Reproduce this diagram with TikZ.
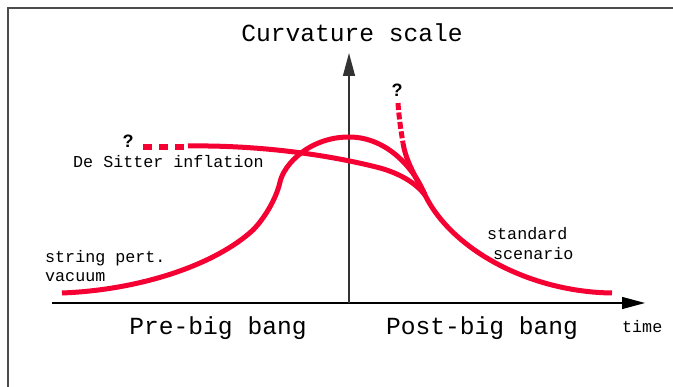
\documentclass[tikz,border=0pt]{standalone}
\usepackage{fontspec}
\setmonofont{Liberation Mono}
\newfontfamily\qfont{Liberation Sans}
\usetikzlibrary{arrows.meta}
\definecolor{cred}{RGB}{245,0,50}
\begin{document}
\begin{tikzpicture}[x=1pt,y=-1pt,
  crv/.style={draw=cred,line width=5pt},
  bigtxt/.style={font=\ttfamily\fontsize{24.6}{28}\selectfont,inner sep=0pt},
  smalltxt/.style={font=\ttfamily\fontsize{16.7}{20}\selectfont,inner sep=0pt},
  qmark/.style={font=\qfont\bfseries\fontsize{18}{20}\selectfont,inner sep=0pt},
  axl/.style={line width=1.3pt,-{Triangle[length=23pt,width=12pt]}}]
\useasboundingbox (0,0) rectangle (673,387);
% frame
\draw[line width=1.5pt,black!70] (8,387) -- (8,8) -- (673,8);
% axes
\coordinate (o) at (349,303);
\coordinate (xs) at (52,303);
\coordinate (xe) at (645,303);
\coordinate (ye) at (349,53);
\draw[axl] (xs) -- (xe);
\draw[axl,black!80] (o) -- (ye);
% texts
\node[bigtxt,anchor=base] (cs) at (352,42) {Curvature scale};
\node[bigtxt,anchor=base] (pre) at (218,335) {Pre-big bang};
\node[bigtxt,anchor=base] (post) at (482,335) {Post-big bang};
\node[smalltxt,anchor=base west] (time) at (622,333) {time};
\node[smalltxt,anchor=base west] (ds) at (73,168) {De Sitter inflation};
\node[smalltxt,anchor=base west] (sp) at (45,263) {string pert.};
\node[smalltxt,anchor=base west] (vac) at (45,282) {vacuum};
\node[smalltxt,anchor=base west] (std) at (487,240) {standard};
\node[smalltxt,anchor=base west] (scen) at (493,260) {scenario};
\node[qmark] (q1) at (128,141) {?};
\node[qmark] (q2) at (397,90) {?};
% key points
\coordinate (a0) at (62,293);
\coordinate (a1) at (253,230);
\coordinate (a2) at (280,182);
\coordinate (pk) at (349,137);
\coordinate (m) at (425,195);
\coordinate (e) at (612,293);
% curve A: pre-big bang + arch + tail
\draw[crv] (a0) .. controls (140,290) and (215,265) .. (a1)
  .. controls (263,220) and (276,200) .. (a2)
  .. controls (284,164) and (310,137) .. (pk)
  .. controls (388,137) and (415,170) .. (m)
  .. controls (452,250) and (530,292) .. (e);
% curve B: De Sitter
\coordinate (b0) at (188,146);
\coordinate (b1) at (380,168);
\draw[draw=cred,line width=6.5pt,dash pattern=on 9pt off 7pt] (143,147) -- (184,147);
\draw[crv] (b0) .. controls (260,145) and (330,155) .. (b1)
  .. controls (398,173) and (415,182) .. (m);
% curve C: post-big bang
\coordinate (c0) at (398,103);
\coordinate (c1) at (403,143);
\draw[draw=cred,line width=5pt,dash pattern=on 7pt off 2.5pt] (c0) .. controls (399,118) and (401,131) .. (c1);
\draw[crv] (c1) .. controls (406,162) and (416,177) .. (m);
\end{tikzpicture}
\end{document}
